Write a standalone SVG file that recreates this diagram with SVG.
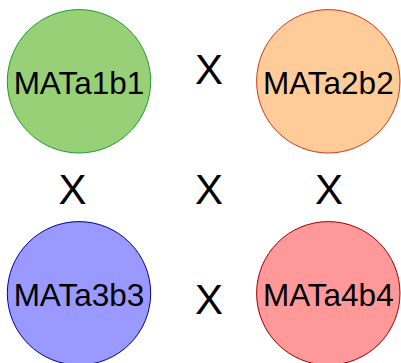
<svg xmlns="http://www.w3.org/2000/svg" width="401" height="363" viewBox="0 0 401 363">
  <style>
    .node circle { stroke-width: 1; }
    .label { font-family: "Liberation Sans", Arial, sans-serif; font-size: 31.5px; fill: #000; text-anchor: middle; }
    .cross { font-family: "Liberation Sans", Arial, sans-serif; font-size: 42px; fill: #000; text-anchor: middle; }
  </style>
  <rect width="401" height="363" fill="#ffffff"/>

  <g id="node-mata1b1" class="node">
    <circle cx="79" cy="81.3" r="71.7" fill="#97D077" stroke="#1E9A35"/>
    <text class="label" x="79" y="93.8">MATa1b1</text>
  </g>

  <g id="node-mata2b2" class="node">
    <circle cx="328.3" cy="81.3" r="71.7" fill="#FFCC99" stroke="#CC3A14"/>
    <text class="label" x="328.3" y="93.8">MATa2b2</text>
  </g>

  <g id="node-mata3b3" class="node">
    <circle cx="79" cy="293.3" r="71.7" fill="#9999FF" stroke="#000099"/>
    <text class="label" x="79" y="305.8">MATa3b3</text>
  </g>

  <g id="node-mata4b4" class="node">
    <circle cx="328.3" cy="293.3" r="71.7" fill="#FF9999" stroke="#990000"/>
    <text class="label" x="328.3" y="305.8">MATa4b4</text>
  </g>

  <!-- crossing marks between the strains -->
  <g id="connectors">
    <text class="cross" x="209" y="84.3">X</text>
    <text class="cross" x="72.5" y="204.3">X</text>
    <text class="cross" x="209" y="204.3">X</text>
    <text class="cross" x="329" y="204.3">X</text>
    <text class="cross" x="209" y="314.3">X</text>
  </g>
</svg>
